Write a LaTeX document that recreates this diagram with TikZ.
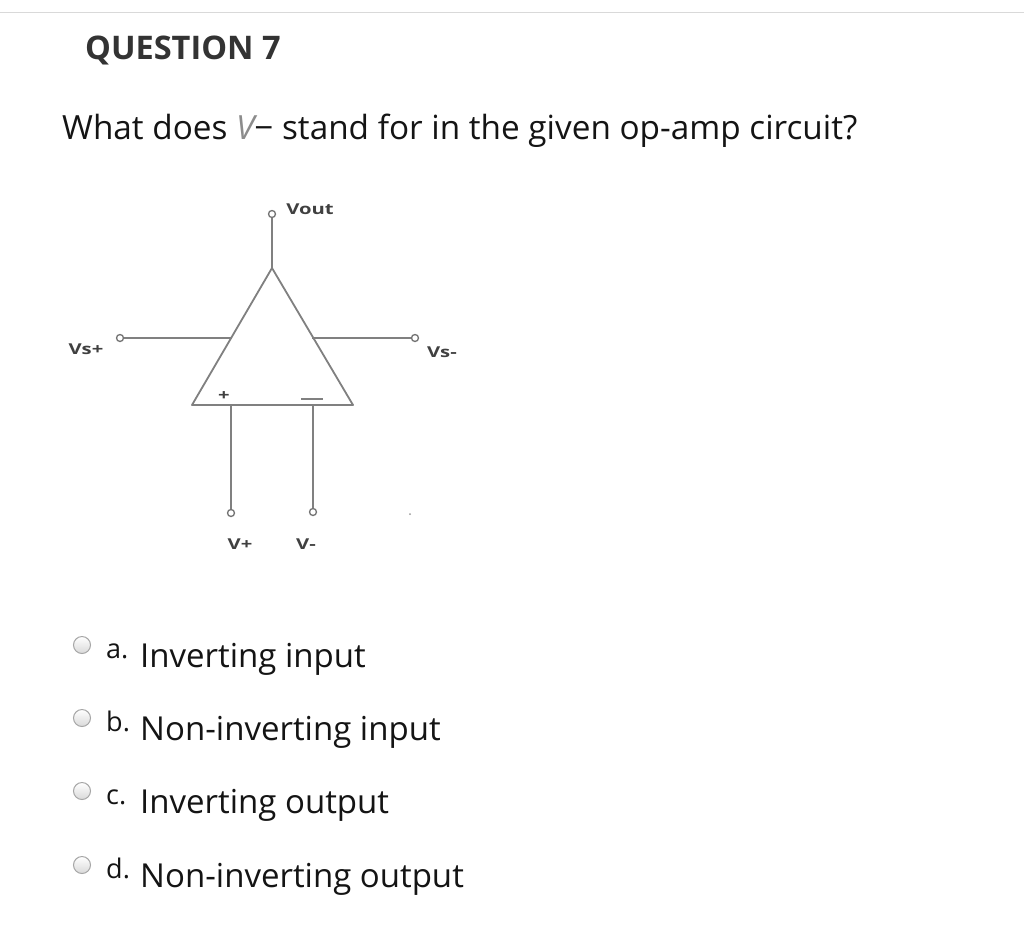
\documentclass[tikz,border=0pt]{standalone}
\usepackage{fontspec}
\setmainfont{Open Sans}
\begin{document}
\begin{tikzpicture}[x=1pt,y=-1pt,
  wire/.style={draw=black!50,line width=1.8pt},
  term/.style={circle,draw=black!55,line width=1.3pt,fill=white,minimum size=7pt,inner sep=0pt},
  lbl/.style={font=\fontsize{15}{17}\selectfont\bfseries,text=black!75,inner sep=0pt,xscale=1.35},
  radio/.style={circle,draw=black!35,line width=1pt,top color=white,bottom color=black!15,minimum size=17pt,inner sep=0pt},
  opt/.style={anchor=base west,inner sep=0pt,font=\fontsize{33}{38}\selectfont,text=black!92},
  optl/.style={anchor=base west,inner sep=0pt,font=\fontsize{27}{30}\selectfont,text=black!92}]
\useasboundingbox (0,0) rectangle (1024,935);
\fill[white] (0,0) rectangle (1024,935);
\coordinate (tl) at (0,12); \coordinate (tr) at (1024,12);
\draw[black!15,line width=1pt] (tl) -- (tr);
\node[anchor=base west,inner sep=0pt,font=\fontsize{32.5}{38}\selectfont\bfseries,text=black!80] (h) at (85,59) {QUESTION 7};
\node[anchor=base west,inner sep=0pt,font=\fontsize{33.3}{38}\selectfont,text=black!92] (q) at (62,139) {What does {\color{black!45}\itshape V}− stand for in the given op-amp circuit?};
% op-amp
\coordinate (apex) at (272,268); \coordinate (bl) at (192,405); \coordinate (br) at (353,405);
\draw[wire,line join=round] (apex) -- (bl) -- (br) -- cycle;
\node[term] (vout) at (272,214) {};
\draw[wire] (vout) -- (apex);
\node[term] (vsp) at (120,338) {};
\coordinate (le) at (232,338); \coordinate (re) at (312,338);
\draw[wire] (vsp) -- (le);
\node[term] (vsm) at (415,338) {};
\draw[wire] (re) -- (vsm);
\coordinate (pb) at (231,405); \coordinate (mb) at (313,405);
\node[term] (vp) at (231,513) {};
\node[term] (vm) at (313,512) {};
\draw[wire] (pb) -- (vp);
\draw[wire] (mb) -- (vm);
\node[lbl,font=\fontsize{15}{15}\selectfont\bfseries,xscale=1] (plus) at (224,396) {+};
\coordinate (m1) at (301,399); \coordinate (m2) at (323,399);
\draw[wire] (m1) -- (m2);
\node[lbl] (lvout) at (310,209) {Vout};
\node[lbl] (lvsp) at (86,349) {Vs+};
\node[lbl] (lvsm) at (442,352) {Vs-};
\node[lbl] (lvp) at (240,544) {V+};
\node[lbl] (lvm) at (306,544) {V-};
\fill[black!40] (410,514) circle (1pt);
% options
\foreach \y/\l/\t [count=\i] in {667/a./Inverting input,740/b./Non-inverting input,813/c./Inverting output,887/d./Non-inverting output}{
  \node[radio] (r\i) at (82,\y-22) {};
  \node[optl] (l\i) at (106,\y-9) {\l};
  \node[opt] (o\i) at (140,\y) {\t};
}
\end{tikzpicture}
\end{document}
